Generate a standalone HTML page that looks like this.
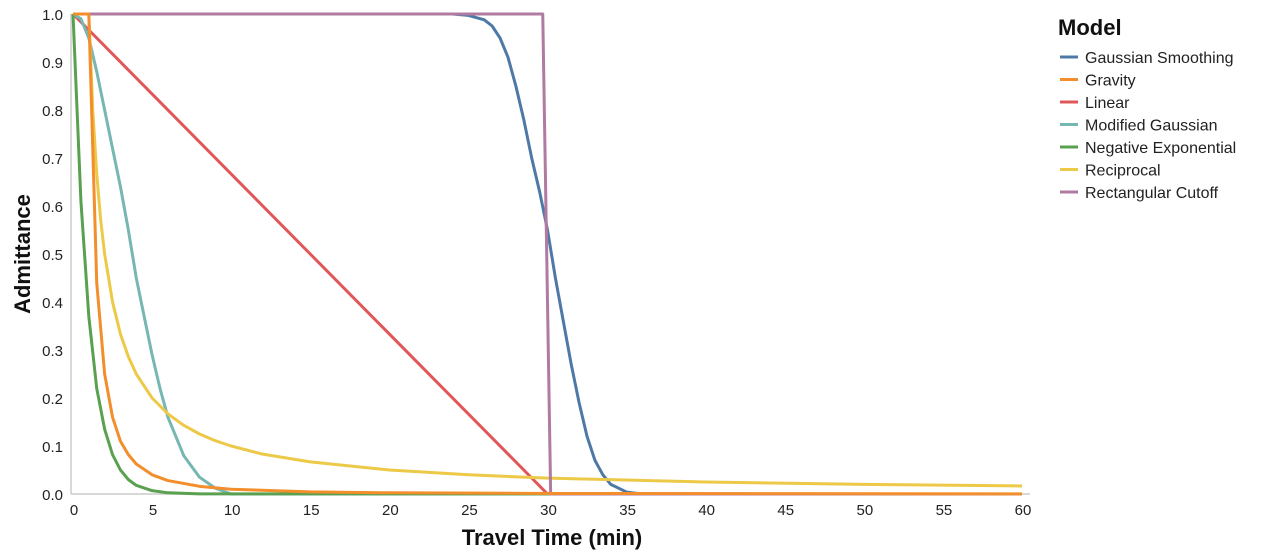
<!DOCTYPE html>
<html><head><meta charset="utf-8"><style>
body{margin:0;background:#fff;font-family:"Liberation Sans",sans-serif;}
svg{display:block}
</style></head><body>
<svg id="chart" width="1272" height="553"></svg>
<script>
const xTicks=[0,5,10,15,20,25,30,35,40,45,50,55,60];
const yTicks=[0,0.1,0.2,0.3,0.4,0.5,0.6,0.7,0.8,0.9,1.0];
const seriesNames=["Gaussian Smoothing","Gravity","Linear","Modified Gaussian","Negative Exponential","Reciprocal","Rectangular Cutoff"];
const gaussT=[0,24,25,26,26.5,27,27.5,28,28.5,29,29.5,30,30.5,31,31.5,32,32.5,33,33.5,34,35,36,60];
const gaussV=[1,1,0.997,0.988,0.975,0.95,0.91,0.85,0.78,0.7,0.63,0.55,0.45,0.36,0.27,0.19,0.12,0.07,0.04,0.02,0.004,0,0];
const gravT=[0,1,1.5,2,2.5,3,3.5,4,5,6,8,10,15,20,30,60];
const gravV=[1,1,0.44,0.25,0.16,0.11,0.082,0.0625,0.04,0.028,0.016,0.01,0.0044,0.0025,0.0011,0.0003];
const linT=[0,30,60];
const linV=[1,0,0];
const modT=[0,0.5,1,1.5,2,2.5,3,3.5,4,4.5,5,5.5,6,7,8,9,10,60];
const modV=[1,0.99,0.95,0.88,0.8,0.72,0.64,0.55,0.45,0.37,0.29,0.22,0.16,0.08,0.035,0.012,0,0];
const negT=[0,0.5,1,1.5,2,2.5,3,3.5,4,5,6,8,60];
const negV=[1,0.61,0.37,0.22,0.135,0.082,0.05,0.03,0.018,0.007,0.0025,0.0003,0];
const recT=[0,1,1.25,1.5,1.75,2,2.5,3,3.5,4,5,6,7,8,9,10,12,15,20,25,30,40,50,60];
const recV=[1,1,0.8,0.667,0.571,0.5,0.4,0.333,0.286,0.25,0.2,0.167,0.143,0.125,0.111,0.1,0.083,0.067,0.05,0.04,0.033,0.025,0.02,0.0167];
const rectT=[0,29.7,30.2,60];
const rectV=[1,1,0,0];
const series=[[gaussT,gaussV,"#4e79a7",0],[linT,linV,"#e15759",2],[modT,modV,"#76b7b2",3],[negT,negV,"#59a14f",4],[recT,recV,"#edc948",5],[rectT,rectV,"#b07aa1",6],[gravT,gravV,"#f28e2b",1]];
const NS="http://www.w3.org/2000/svg";
const svg=document.getElementById("chart");
const X=t=>73+t*(1022-73)/60;
const Y=v=>494-v*480;
function mk(tag,attrs,parent){const e=document.createElementNS(NS,tag);for(const k in attrs)e.setAttribute(k,attrs[k]);(parent||svg).appendChild(e);return e;}
let a=mk("line",{x1:71,y1:14,x2:71,y2:494,stroke:"#ccc","stroke-width":1.5});


a=mk("line",{x1:71,y1:494,x2:1030,y2:494,stroke:"#ccc","stroke-width":1.5});


yTicks.forEach(v=>{const t=mk("text",{x:63,y:Y(v)+6,"text-anchor":"end","font-size":15,fill:"#222"});t.textContent=v.toFixed(1);

});
xTicks.forEach(v=>{const t=mk("text",{x:X(v)+1,y:515,"text-anchor":"middle","font-size":15,fill:"#222"});t.textContent=v;

});
let t=mk("text",{x:552,y:545,"text-anchor":"middle","font-size":22,"font-weight":"bold",fill:"#111"});t.textContent="Travel Time (min)";


t=mk("text",{x:0,y:0,transform:"translate(30,254) rotate(-90)","text-anchor":"middle","font-size":22,"font-weight":"bold",fill:"#111"});t.textContent="Admittance";


series.forEach(s=>{const p=mk("polyline",{points:s[0].map((tt,j)=>X(tt)+","+Y(s[1][j])).join(" "),fill:"none",stroke:s[2],"stroke-width":3,"stroke-linejoin":"round"});

});
t=mk("text",{x:1058,y:35,"font-size":22,"font-weight":"bold",fill:"#111"});t.textContent="Model";


const legendColors=["#4e79a7","#f28e2b","#e15759","#76b7b2","#59a14f","#edc948","#b07aa1"];
seriesNames.forEach((n,i)=>{const y=57+i*22.5;const g=mk("g",{});


mk("line",{x1:1060,y1:y,x2:1078,y2:y,stroke:legendColors[i],"stroke-width":3},g);
const tx=mk("text",{x:1085,y:y+6,"font-size":16,fill:"#222"},g);tx.textContent=n;});
</script>
</body></html>
